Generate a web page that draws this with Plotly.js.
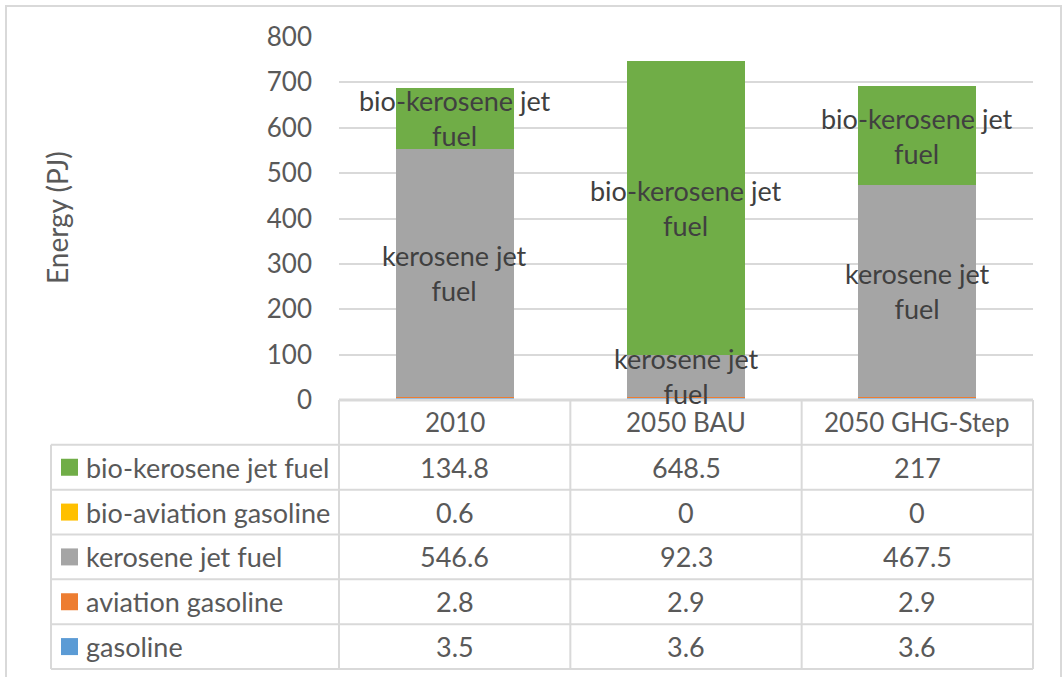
<!DOCTYPE html>
<html>
<head>
<meta charset="utf-8">
<script src="https://cdn.plot.ly/plotly-3.0.1.min.js"></script>
<style>html,body{margin:0;padding:0;background:#fff;}#chart{width:1063px;height:677px;}</style>
</head>
<body>
<div id="chart"></div>
<script>
// ---- data ----
var categories = ['2010', '2050 BAU', '2050 GHG-Step'];
var seriesNames = ['gasoline', 'aviation gasoline', 'kerosene jet fuel', 'bio-aviation gasoline', 'bio-kerosene jet fuel'];
var gasoline = [3.5, 3.6, 3.6];
var aviationGasoline = [2.8, 2.9, 2.9];
var keroseneJetFuel = [546.6, 92.3, 467.5];
var bioAviationGasoline = [0.6, 0, 0];
var bioKeroseneJetFuel = [134.8, 648.5, 217];
var yTicks = [0, 100, 200, 300, 400, 500, 600, 700, 800];
var labelledSeries = ['kerosene jet fuel', 'bio-kerosene jet fuel'];

// ---- styling ----
var colors = ['#5B9BD5', '#ED7D31', '#A5A5A5', '#FFC000', '#70AD47'];
var seriesValues = [gasoline, aviationGasoline, keroseneJetFuel, bioAviationGasoline, bioKeroseneJetFuel];
var FONT = 'Lato, "Open Sans", sans-serif';
var FS = 27;
var W = 1063, H = 677;
var L = 339, R = 30, T = 37, B = 8;
var PW = W - L - R, PH = H - T - B;
function px2x(px) { return (px - L) / PW; }
function py2y(py) { return (H - B - py) / PH; }
var tableTopPy = 400;
var nRows = seriesNames.length + 1;
var rowH = (H - B - tableTopPy) / nRows;
var legendLeftPx = 51;
var grid = '#D9D9D9';
var txt = '#595959';

var traces = [];
for (var i = 0; i < seriesNames.length; i++) {
  traces.push({
    type: 'bar', name: seriesNames[i], x: categories, y: seriesValues[i],
    marker: {color: colors[i], line: {width: 0}}, hoverinfo: 'x+y+name'
  });
}

var shapes = [], annotations = [];
// segment labels (centred in each segment)
for (var c = 0; c < categories.length; c++) {
  var base = 0;
  for (var s = 0; s < seriesNames.length; s++) {
    var v = seriesValues[s][c];
    if (labelledSeries.indexOf(seriesNames[s]) >= 0 && v > 0) {
      var n = seriesNames[s];
      var k = n.lastIndexOf(' ');
      annotations.push({xref: 'x', yref: 'y', x: c, y: base + v / 2, yshift: 0,
        text: n.slice(0, k) + '<br>' + n.slice(k + 1), showarrow: false,
        font: {family: FONT, size: FS, color: '#404040'}, xanchor: 'center', yanchor: 'middle'});
    }
    base += v;
  }
}

// outer frame
shapes.push({type: 'rect', xref: 'paper', yref: 'paper', x0: px2x(6), x1: px2x(1061), y0: py2y(700), y1: py2y(6),
  line: {color: grid, width: 2}, fillcolor: 'rgba(0,0,0,0)', layer: 'below'});
// table horizontal lines
for (var r = 0; r <= nRows; r++) {
  var py = H - B - r * rowH;
  var x0 = (r === nRows) ? 0 : px2x(legendLeftPx);
  shapes.push({type: 'line', xref: 'paper', yref: 'paper', x0: x0, x1: 1, y0: py2y(py), y1: py2y(py),
    line: {color: grid, width: (r === nRows) ? 3 : 2}});
}
// table vertical lines
for (var k2 = 0; k2 <= categories.length; k2++) {
  shapes.push({type: 'line', xref: 'paper', yref: 'paper', x0: k2 / categories.length, x1: k2 / categories.length,
    y0: 0, y1: py2y(tableTopPy), line: {color: grid, width: 2}});
}
shapes.push({type: 'line', xref: 'paper', yref: 'paper', x0: px2x(legendLeftPx), x1: px2x(legendLeftPx),
  y0: 0, y1: py2y(tableTopPy + rowH), line: {color: grid, width: 2}});

// header row
var headerCy = tableTopPy + rowH / 2;
for (var c2 = 0; c2 < categories.length; c2++) {
  annotations.push({xref: 'x', yref: 'paper', x: c2, y: py2y(headerCy), text: categories[c2], showarrow: false,
    font: {family: FONT, size: 26, color: txt}, xanchor: 'center', yanchor: 'middle'});
}
// series rows (top: last series)
for (var s2 = seriesNames.length - 1; s2 >= 0; s2--) {
  var rowIdx = seriesNames.length - 1 - s2;
  var cy = tableTopPy + rowH * (rowIdx + 1.5);
  shapes.push({type: 'rect', xref: 'paper', yref: 'paper', x0: px2x(61), x1: px2x(78), y0: py2y(cy + 8.5), y1: py2y(cy - 8.5),
    fillcolor: colors[s2], line: {width: 0}});
  annotations.push({xref: 'paper', yref: 'paper', x: px2x(84), y: py2y(cy), text: seriesNames[s2], showarrow: false,
    font: {family: FONT, size: FS, color: txt}, xanchor: 'left', yanchor: 'middle'});
  for (var c3 = 0; c3 < categories.length; c3++) {
    annotations.push({xref: 'x', yref: 'paper', x: c3, y: py2y(cy), text: String(seriesValues[s2][c3]), showarrow: false,
      font: {family: FONT, size: FS, color: txt}, xanchor: 'center', yanchor: 'middle'});
  }
}
// y axis title
annotations.push({xref: 'paper', yref: 'paper', x: px2x(57), y: py2y(218), text: 'Energy (PJ)', textangle: -90, showarrow: false,
  font: {family: FONT, size: 28, color: txt}, xanchor: 'center', yanchor: 'middle'});

var layout = {
  width: W, height: H, margin: {l: L, r: R, t: T, b: B, pad: 0},
  paper_bgcolor: '#fff', plot_bgcolor: '#fff', barmode: 'stack', bargap: 0.49, showlegend: false,
  font: {family: FONT, color: txt},
  xaxis: {type: 'category', range: [-0.5, 2.5], showticklabels: false, ticks: '', showline: false, showgrid: false, zeroline: false, fixedrange: true},
  yaxis: {domain: [py2y(tableTopPy), 1], range: [0, 800], tickvals: yTicks, ticktext: yTicks.map(String), showgrid: true, gridcolor: grid, gridwidth: 2,
    zeroline: false, showline: false, ticks: '', ticklabelstandoff: 26, tickfont: {family: FONT, size: 26, color: txt}, fixedrange: true},
  shapes: shapes, annotations: annotations
};
Plotly.newPlot('chart', traces, layout, {displayModeBar: false, staticPlot: true});
</script>
</body>
</html>
